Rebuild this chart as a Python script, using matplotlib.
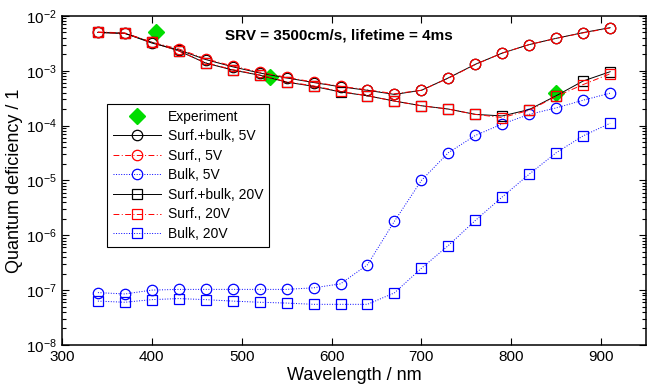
import matplotlib
matplotlib.use("Agg")
import matplotlib.pyplot as plt

plt.rcParams['font.family'] = ['Liberation Sans', 'DejaVu Sans']
plt.rcParams['mathtext.fontset'] = 'custom'
plt.rcParams['mathtext.rm'] = 'Liberation Sans'

# wavelengths (nm)
wl = [340, 370, 400, 430, 460, 490, 520, 550, 580, 610,
      640, 670, 700, 730, 760, 790, 820, 850, 880, 910]

# 5 V
sb_5v = [5.0e-3, 4.8e-3, 3.2e-3, 2.4e-3, 1.6e-3, 1.18e-3, 9.1e-4, 7.4e-4, 6.1e-4, 5.1e-4,
         4.4e-4, 3.7e-4, 4.4e-4, 7.4e-4, 1.31e-3, 2.1e-3, 3.0e-3, 3.9e-3, 4.96e-3, 6.1e-3]
s_5v = [5.1e-3, 4.9e-3, 3.3e-3, 2.5e-3, 1.65e-3, 1.22e-3, 9.4e-4, 7.6e-4, 6.2e-4, 5.2e-4,
        4.5e-4, 3.8e-4, 4.4e-4, 7.3e-4, 1.3e-3, 2.1e-3, 3.0e-3, 3.9e-3, 4.9e-3, 6.0e-3]
b_5v = [9.0e-8, 8.5e-8, 1.0e-7, 1.03e-7, 1.03e-7, 1.03e-7, 1.03e-7, 1.03e-7, 1.1e-7, 1.3e-7,
        2.9e-7, 1.8e-6, 1.0e-5, 3.2e-5, 6.6e-5, 1.07e-4, 1.6e-4, 2.1e-4, 2.9e-4, 3.9e-4]

# 20 V
sb_20v = [5.0e-3, 4.8e-3, 3.3e-3, 2.3e-3, 1.38e-3, 1.03e-3, 8.3e-4, 6.2e-4, 5.2e-4, 4.1e-4,
          3.5e-4, 2.8e-4, 2.3e-4, 2.0e-4, 1.6e-4, 1.5e-4, 1.96e-4, 3.5e-4, 6.5e-4, 9.6e-4]
s_20v = [5.0e-3, 4.8e-3, 3.3e-3, 2.3e-3, 1.4e-3, 1.05e-3, 8.4e-4, 6.3e-4, 5.3e-4, 4.2e-4,
         3.5e-4, 2.8e-4, 2.3e-4, 2.0e-4, 1.6e-4, 1.4e-4, 1.9e-4, 3.4e-4, 5.6e-4, 8.8e-4]
b_20v = [6.3e-8, 6.0e-8, 6.7e-8, 7.0e-8, 6.7e-8, 6.3e-8, 6.0e-8, 5.8e-8, 5.5e-8, 5.5e-8,
         5.5e-8, 8.9e-8, 2.5e-7, 6.5e-7, 1.86e-6, 5.0e-6, 1.3e-5, 3.2e-5, 6.5e-5, 1.1e-4]

# experiment
exp_wl = [405, 532, 850]
exp_val = [5.0e-3, 7.7e-4, 4.0e-4]

fig = plt.figure(figsize=(6.47, 3.88), dpi=100)
ax = fig.add_axes([0.0958, 0.111, 0.9027, 0.848])

ms = 7.5
lw = 0.7
dashdot = (0, (6, 2.5, 1, 2.5))
ax.plot(exp_wl, exp_val, 'D', color='#00dd00', ms=8, mec='#00dd00', label='Experiment', zorder=1)
ax.plot(wl, sb_5v, '-o', color='black', lw=lw, ms=ms, mfc='none', mew=0.9, label='Surf.+bulk, 5V')
ax.plot(wl, s_5v, linestyle=dashdot, marker='o', color='red', lw=lw, ms=ms, mfc='none', mew=0.9,
        label='Surf., 5V')
ax.plot(wl, b_5v, ':o', color='blue', lw=lw, ms=ms, mfc='none', mew=0.9, label='Bulk, 5V')
ax.plot(wl, sb_20v, '-s', color='black', lw=lw, ms=ms, mfc='none', mew=0.9, label='Surf.+bulk, 20V')
ax.plot(wl, s_20v, linestyle=dashdot, marker='s', color='red', lw=lw, ms=ms, mfc='none', mew=0.9,
        label='Surf., 20V')
ax.plot(wl, b_20v, ':s', color='blue', lw=lw, ms=ms, mfc='none', mew=0.9, label='Bulk, 20V')

ax.set_yscale('log')
ax.set_xlim(300, 950)
ax.set_ylim(1e-8, 1e-2)
ax.set_xticks([300, 400, 500, 600, 700, 800, 900])
ax.tick_params(which='both', direction='in', top=True, right=True, labelsize=11, width=0.8)
ax.tick_params(which='major', length=5)
ax.tick_params(which='minor', length=3)
for sp in ax.spines.values():
    sp.set_linewidth(1.1)

ax.set_xlabel('Wavelength / nm', fontsize=13, labelpad=2)
ax.set_ylabel('Quantum deficiency / 1', fontsize=13, labelpad=2)

ax.text(0.474, 0.94, 'SRV = 3500cm/s, lifetime = 4ms', transform=ax.transAxes,
        ha='center', va='center', fontsize=11, fontweight='bold')

leg = ax.legend(loc='upper left', bbox_to_anchor=(0.077, 0.732), fontsize=10,
                fancybox=False, edgecolor='black', framealpha=1, borderaxespad=0,
                handlelength=3.5, handletextpad=0.5, labelspacing=0.4)
leg.get_frame().set_linewidth(0.8)

fig.savefig('out.png', dpi=100)
